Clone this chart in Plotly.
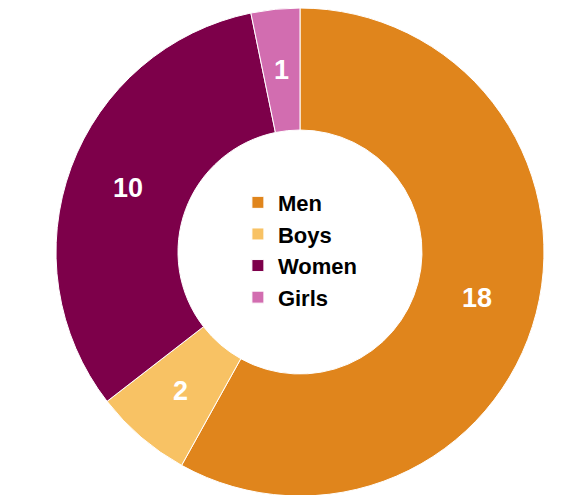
import math
import plotly.graph_objects as go

categories = ["Men", "Boys", "Women", "Girls"]
values = [18, 2, 10, 1]
colors = ["#E0851C", "#F8C264", "#7D004A", "#D26DB0"]

W, H = 579, 495
dom_x = [0.0829, 0.9257]
dom_y = [0.0141, 1.0]
hole = 0.5

fig = go.Figure(go.Pie(
    labels=categories,
    values=values,
    hole=hole,
    sort=False,
    direction="clockwise",
    rotation=0,
    marker=dict(colors=colors, line=dict(color="white", width=1)),
    textinfo="none",
    domain=dict(x=dom_x, y=dom_y),
))

# value labels placed at the middle of the ring, derived from the data
cx = (dom_x[0] + dom_x[1]) / 2 * W
cy = (dom_y[0] + dom_y[1]) / 2 * H
radius = min((dom_x[1] - dom_x[0]) * W, (dom_y[1] - dom_y[0]) * H) / 2
r_mid = radius * (1 + hole) / 2
total = sum(values)
cum = 0
annotations = []
for v in values:
    ang = (cum + v / 2) / total * 2 * math.pi
    cum += v
    px = cx + r_mid * math.sin(ang)
    py = cy + r_mid * math.cos(ang)
    annotations.append(dict(
        x=px / W, y=py / H, xref="paper", yref="paper",
        text=str(v), showarrow=False, xanchor="center", yanchor="middle",
        font=dict(family="Arial, Liberation Sans, sans-serif", size=27, color="white", weight="bold"),
    ))

fig.update_layout(
    width=W, height=H,
    margin=dict(l=0, r=0, t=0, b=0),
    paper_bgcolor="white",
    plot_bgcolor="white",
    showlegend=True,
    annotations=annotations,
    legend=dict(
        x=0.505, y=0.511, xanchor="center", yanchor="middle",
        font=dict(family="Arial, Liberation Sans, sans-serif", size=22, color="black", weight="bold"),
        bgcolor="rgba(0,0,0,0)",
        traceorder="normal",
    ),
)

fig.write_html("out.html")
